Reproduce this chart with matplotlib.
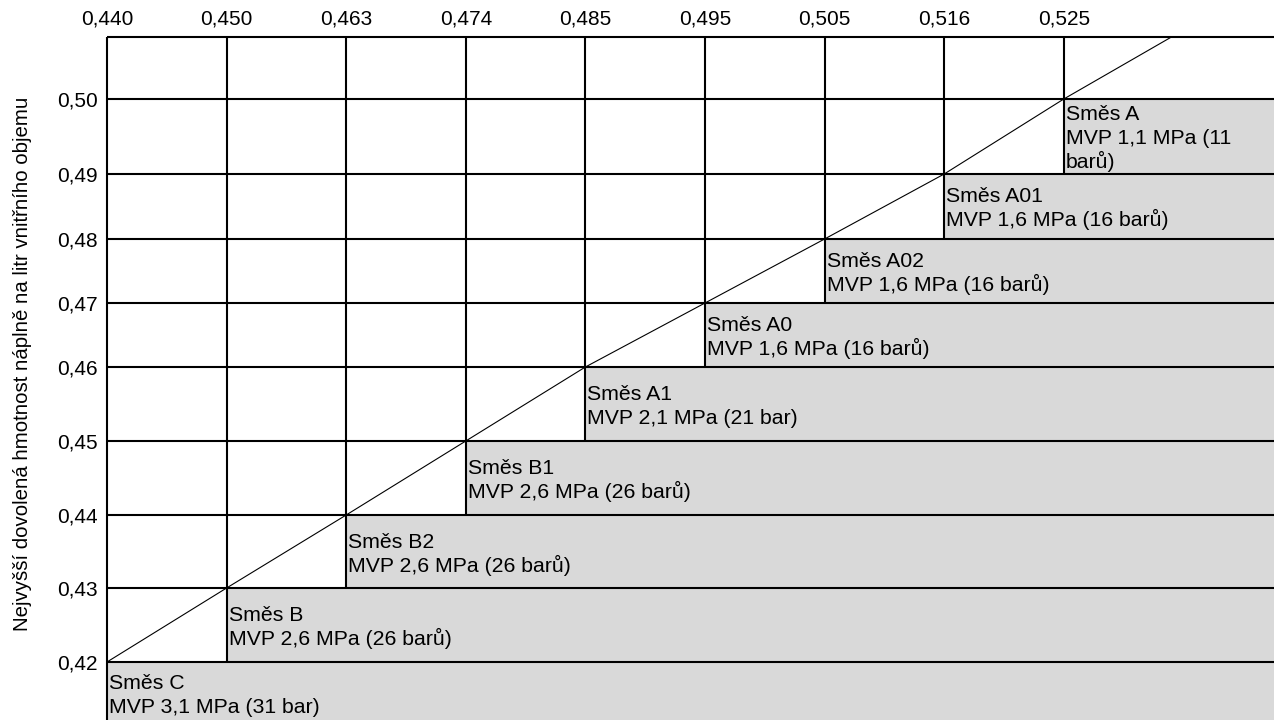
import numpy as np
import matplotlib.pyplot as plt

plt.rcParams['font.family'] = ['Liberation Sans', 'DejaVu Sans']

x_labels = ['0,440', '0,450', '0,463', '0,474', '0,485', '0,495', '0,505', '0,516', '0,525']
y_labels = ['0,42', '0,43', '0,44', '0,45', '0,46', '0,47', '0,48', '0,49', '0,50']
mixtures = [
    'Směs C\nMVP 3,1 MPa (31 bar)',
    'Směs B\nMVP 2,6 MPa (26 barů)',
    'Směs B2\nMVP 2,6 MPa (26 barů)',
    'Směs B1\nMVP 2,6 MPa (26 barů)',
    'Směs A1\nMVP 2,1 MPa (21 bar)',
    'Směs A0\nMVP 1,6 MPa (16 barů)',
    'Směs A02\nMVP 1,6 MPa (16 barů)',
    'Směs A01\nMVP 1,6 MPa (16 barů)',
    'Směs A\nMVP 1,1 MPa (11\nbarů)',
]
y_title = 'Nejvyšší dovolená hmotnost náplně na litr vnitřního objemu'

# row heights in pixels, bottom row first (bottom row is partly cut by the image edge)
row_h = [62, 74, 73, 74, 74, 64, 64, 65, 75, 62]
col_w = 119.6
W, H = 1274, 720
left_px = 107
cut_px = 4
line_step = 24

edges = np.concatenate([[0], np.cumsum(row_h)])
top = edges[-1]
xmax = (W - left_px) / col_w

fig = plt.figure(figsize=(W / 100, H / 100), dpi=100)
ax = fig.add_axes([left_px / W, -cut_px / H, 1 - left_px / W, top / H])
ax.set_xlim(0, xmax)
ax.set_ylim(0, top)

# grey bands for each mixture, text centred vertically in its row
for k, txt in enumerate(mixtures):
    ax.barh(edges[k], xmax - k, left=k, height=row_h[k], align='edge',
            color='#d9d9d9', zorder=1)
    lines = txt.split('\n')
    cy = edges[k] + row_h[k] / 2
    for i, line in enumerate(lines):
        by = cy - 8 - (i - (len(lines) - 1) / 2) * line_step
        ax.text(k + 2 / col_w, by, line, ha='left', va='baseline',
                fontsize=15.3, zorder=4)

# grid
ax.hlines(edges[1:], 0, xmax, color='black', lw=1.5, zorder=3, clip_on=False)
for k in range(len(x_labels)):
    ax.vlines(k, edges[k], top, color='black', lw=1.5, zorder=3, clip_on=False)

# diagonal through the corners
diag_x = list(range(len(x_labels))) + [8.9]
diag_y = list(edges[1:len(x_labels) + 1]) + [top]
ax.plot(diag_x, diag_y, color='black', lw=0.8, zorder=3)

ax.xaxis.tick_top()
ax.set_xticks(range(len(x_labels)))
ax.set_xticklabels(x_labels, fontsize=15)
ax.set_yticks(edges[1:len(y_labels) + 1])
ax.set_yticklabels(y_labels, fontsize=15)
ax.tick_params(axis='x', length=0, pad=6)
ax.tick_params(axis='y', length=0, pad=6.5)
for s in ax.spines.values():
    s.set_visible(False)

fig.text(23 / W, 1 - 364 / H, y_title, rotation=90, ha='center', va='center', fontsize=14.7)

fig.savefig('out.png', dpi=100)
